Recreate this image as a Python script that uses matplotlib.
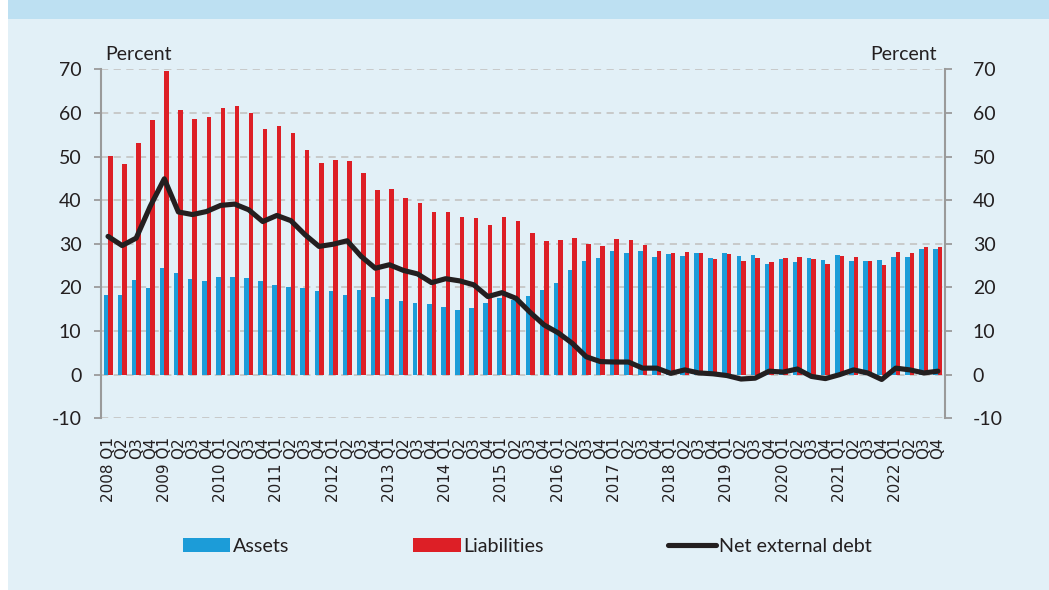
import numpy as np
import matplotlib
matplotlib.use("Agg")
import matplotlib.pyplot as plt
import matplotlib.transforms as mtransforms
from matplotlib.patches import Rectangle, Patch
from matplotlib.lines import Line2D

# --- data (percent) ---
years = list(range(2008, 2023))
quarters = ["Q1", "Q2", "Q3", "Q4"]

assets = [18.3, 18.3, 21.7, 19.9, 24.5, 23.2, 21.9, 21.4, 22.4, 22.4,
          22.1, 21.4, 20.6, 20.0, 19.8, 19.1, 19.2, 18.3, 19.3, 17.8,
          17.3, 16.8, 16.4, 16.2, 15.5, 14.9, 15.3, 16.5, 17.5, 17.2,
          18.1, 19.3, 21.1, 24.0, 26.0, 26.7, 28.3, 27.9, 28.3, 27.0,
          27.6, 27.3, 27.8, 26.7, 27.9, 27.2, 27.4, 25.3, 26.5, 25.9,
          26.8, 26.3, 27.4, 26.1, 26.0, 26.3, 27.0, 27.0, 28.9, 28.8]

liabilities = [50.1, 48.2, 53.0, 58.4, 69.5, 60.6, 58.6, 59.1, 61.2, 61.7,
               59.9, 56.4, 57.1, 55.4, 51.6, 48.5, 49.1, 48.9, 46.2, 42.3,
               42.6, 40.6, 39.4, 37.4, 37.4, 36.2, 35.9, 34.4, 36.2, 35.3,
               32.5, 30.6, 30.9, 31.3, 30.0, 29.6, 31.2, 30.9, 29.8, 28.3,
               27.9, 28.2, 27.9, 26.6, 27.6, 26.0, 26.7, 25.8, 26.8, 27.0,
               26.5, 25.4, 27.3, 27.0, 26.1, 25.2, 28.2, 27.9, 29.2, 29.3]

net_debt = [31.7, 29.6, 31.3, 38.6, 44.9, 37.3, 36.7, 37.4, 38.8, 39.1,
            37.8, 35.1, 36.5, 35.3, 32.1, 29.4, 29.9, 30.7, 27.1, 24.4,
            25.2, 23.9, 23.1, 21.1, 22.0, 21.5, 20.6, 17.9, 18.8, 17.5,
            14.3, 11.4, 9.6, 7.2, 4.1, 3.0, 2.9, 2.9, 1.5, 1.5,
            0.3, 1.1, 0.4, 0.2, -0.2, -1.0, -0.8, 0.8, 0.6, 1.3,
            -0.4, -0.9, 0.0, 1.1, 0.4, -1.1, 1.5, 1.1, 0.4, 0.8]

labels = []
for y in years:
    for q in quarters:
        labels.append(f"{y} {q}" if q == "Q1" else q)

BLUE = "#1c9cd8"
RED = "#dd1f26"
INK = "#231f20"
GRID = "#c6c6c6"
SPINE = "#9a9a9a"

plt.rcParams['font.family'] = ['Lato', 'DejaVu Sans']
plt.rcParams['axes.unicode_minus'] = False

fig = plt.figure(figsize=(10.49, 5.90), dpi=100)
fig.patch.set_facecolor("white")
# panel background + header band
fig.patches.append(Rectangle((8 / 1049, 0), 1, 1, transform=fig.transFigure,
                             facecolor="#e2f0f7", edgecolor="none", zorder=-10))
fig.patches.append(Rectangle((8 / 1049, 1 - 19 / 590), 1, 19 / 590, transform=fig.transFigure,
                             facecolor="#bde0f2", edgecolor="none", zorder=-9))

ax = fig.add_axes([101 / 1049, 1 - 418.3 / 590, 844 / 1049, (418.3 - 69.3) / 590])
ax.set_facecolor("none")

x = np.arange(len(labels))
w = 0.32
ax.bar(x - w / 2, assets, width=w, color=BLUE, zorder=2)
ax.bar(x + w / 2, liabilities, width=w, color=RED, zorder=2)
ax.plot(x, net_debt, color=INK, lw=3.7, solid_joinstyle="round",
        solid_capstyle="round", zorder=3)

ax.set_xlim(-0.5, len(labels) - 0.5)
ax.set_ylim(-10, 70)
ax.set_yticks(range(-10, 71, 10))
ax.yaxis.grid(True, color=GRID, ls=(0, (4, 3)), lw=1.3, zorder=0)
ax.set_axisbelow(True)

for s in ["top", "bottom"]:
    ax.spines[s].set_visible(False)
for s in ["left", "right"]:
    ax.spines[s].set_color(SPINE)
    ax.spines[s].set_linewidth(1.5)

ax.tick_params(axis="y", direction="out", length=5, width=1.3, pad=9,
               color=SPINE, labelsize=14, labelcolor=INK,
               left=True, right=True, labelleft=True, labelright=True)
# right-side labels sit a little further out
shift = mtransforms.ScaledTranslation(6 / 72, 0, fig.dpi_scale_trans)
for tick in ax.yaxis.get_major_ticks():
    tick.label2.set_transform(tick.label2.get_transform() + shift)

ax.set_xticks(x)
ax.set_xticklabels(labels, rotation=90, ha="center", va="top",
                   fontsize=11, color=INK, family="DejaVu Sans")
ax.tick_params(axis="x", length=0, pad=13.5)

fig.text(105 / 1049, 1 - 54 / 590, "Percent", fontsize=14, color=INK,
         ha="left", va="center")
fig.text(937 / 1049, 1 - 54 / 590, "Percent", fontsize=14, color=INK,
         ha="right", va="center")

handles = [Patch(facecolor=BLUE, edgecolor="none", label="Assets"),
           Patch(facecolor=RED, edgecolor="none", label="Liabilities"),
           Line2D([0], [0], color=INK, lw=3.7, solid_capstyle="round",
                  label="Net external debt")]
fig.legend(handles=handles, loc="center", ncol=3,
           bbox_to_anchor=(527 / 1049, 1 - 546 / 590), frameon=False,
           fontsize=14.2, handlelength=2.4, handleheight=0.7,
           handletextpad=0.15, columnspacing=6.3, labelcolor=INK)

fig.savefig("out.png", dpi=100, facecolor=fig.get_facecolor())
